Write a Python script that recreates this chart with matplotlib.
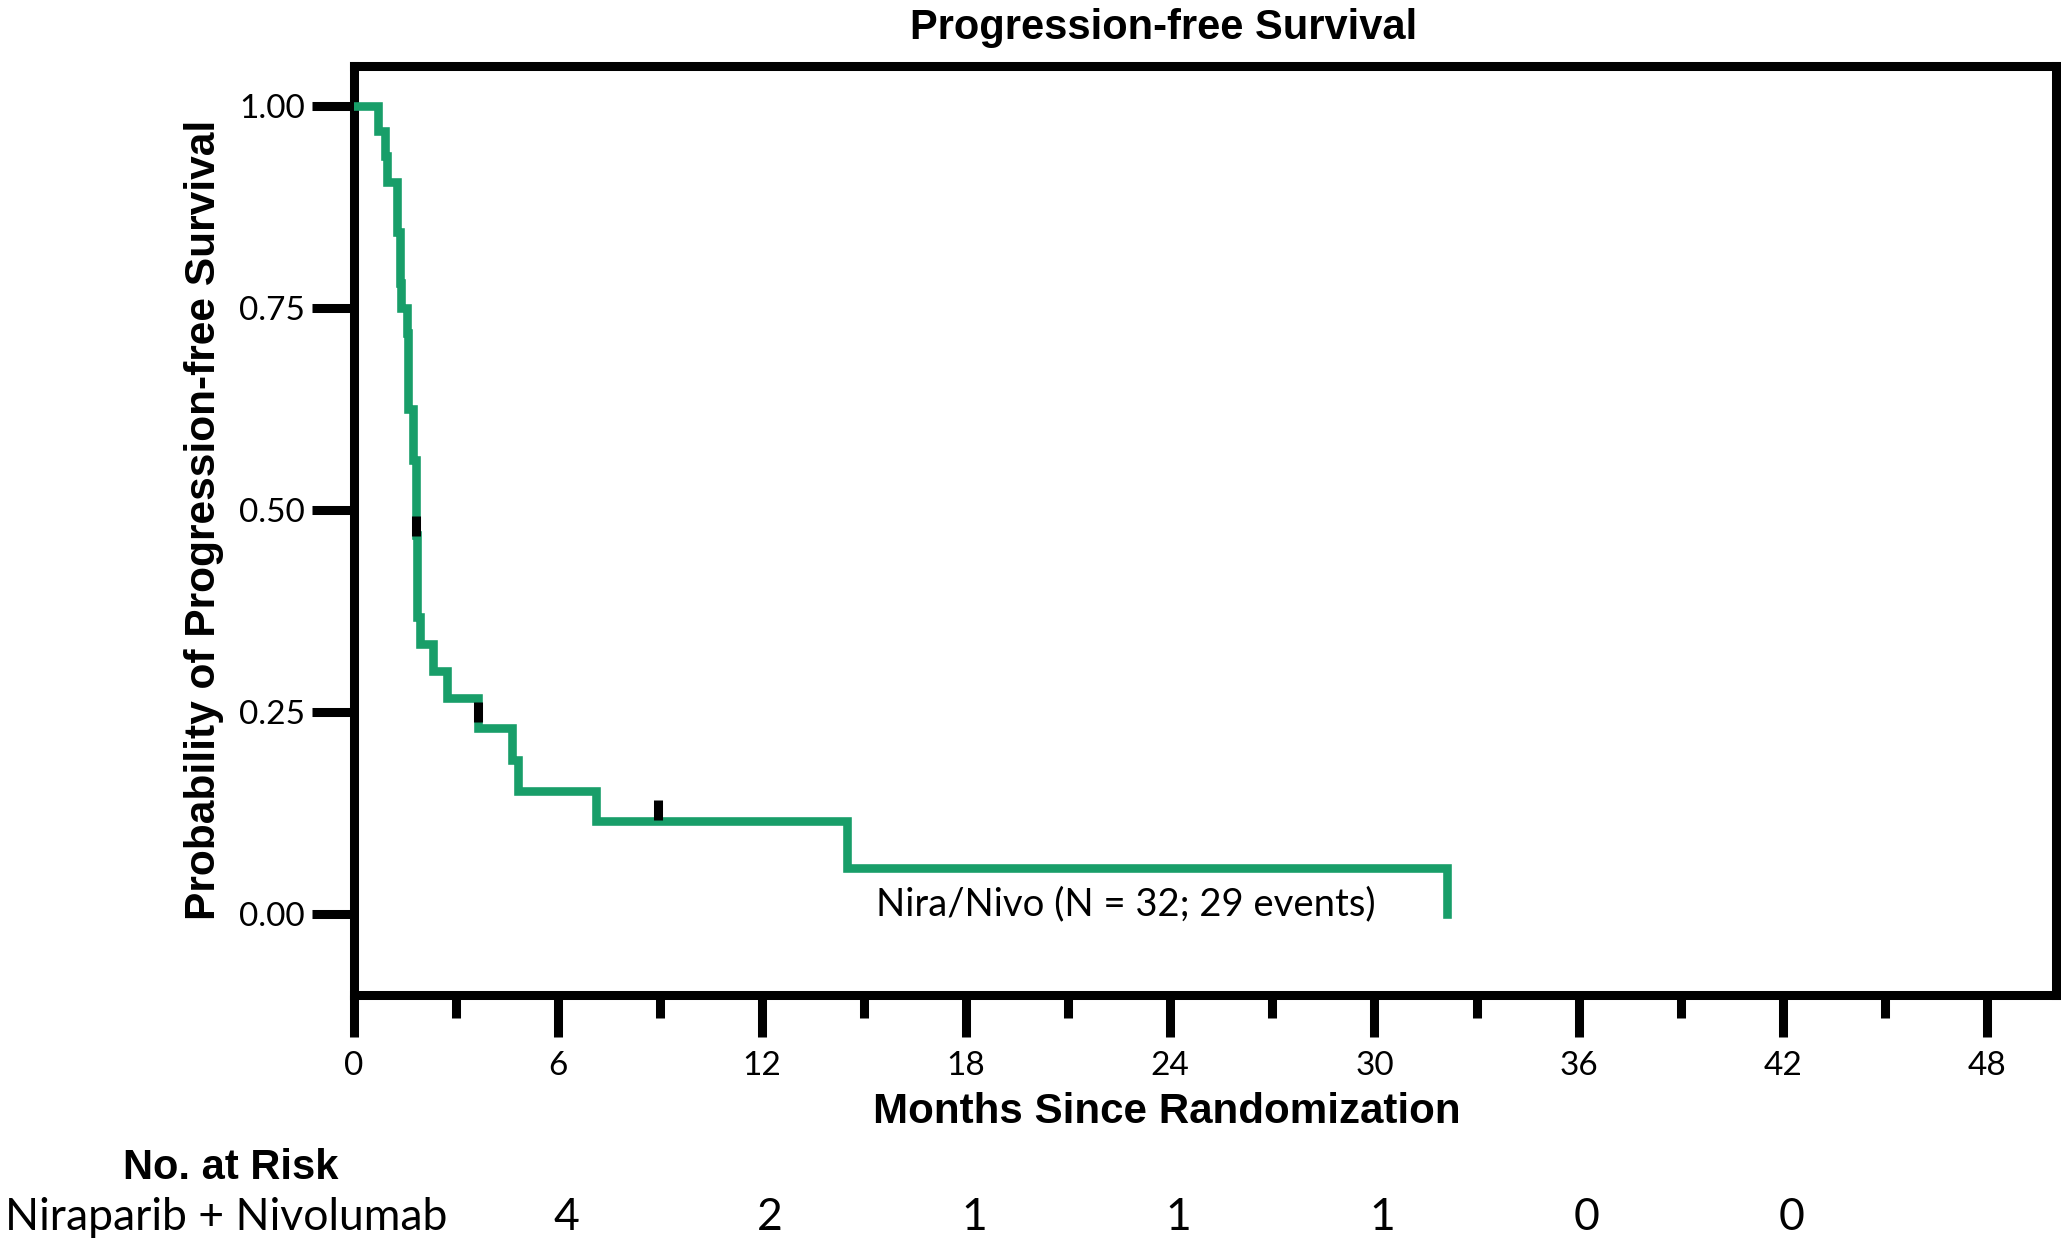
import numpy as np
import matplotlib
matplotlib.use('Agg')
import matplotlib.pyplot as plt
import matplotlib.transforms as mtransforms

# Kaplan-Meier steps (months, survival probability)
times = [0, 0.73, 0.92, 0.98, 1.28, 1.36, 1.40, 1.56, 1.60, 1.76, 1.84, 1.87, 1.95,
         2.34, 2.74, 3.67, 4.65, 4.84, 7.12, 14.49, 32.12]
surv = [1.0, 0.969, 0.938, 0.906, 0.844, 0.781, 0.750, 0.719, 0.625, 0.562, 0.469,
        0.368, 0.335, 0.301, 0.268, 0.230, 0.191, 0.153, 0.115, 0.057, 0.0]

# censor marks (time, level where the tick sits)
censor_times = [1.84, 3.65, 8.95]
censor_levels = [0.48, 0.25, 0.129]

risk_times = [6, 12, 18, 24, 30, 36, 42]
risk_counts = [4, 2, 1, 1, 1, 0, 0]

green = '#189e69'
bold_font = 'Liberation Sans'
reg_font = 'Lato'

W, H = 2061, 1239
fig = plt.figure(figsize=(W / 100, H / 100), dpi=100)
ax = fig.add_axes([353.6 / W, 1 - 995 / H, (2056 - 353.6) / W, (995 - 66) / H])

ax.step(times, surv, where='post', color=green, lw=6.2, solid_joinstyle='miter', zorder=3)
ax.plot(censor_times, censor_levels, ls='none', marker='|', ms=15, mew=6.5,
        color='black', zorder=4)

ax.set_xlim(0, 50.03)
ax.set_ylim(-0.1, 1.05)
ax.set_xticks(np.arange(0, 49, 6))
ax.set_xticks(np.arange(3, 48, 6), minor=True)
ax.set_yticks([0, 0.25, 0.5, 0.75, 1.0])
ax.set_yticklabels(['0.00', '0.25', '0.50', '0.75', '1.00'])

for s in ax.spines.values():
    s.set_linewidth(6.5)
    s.set_color('black')

ax.tick_params(axis='x', which='major', direction='out', length=30, width=6.5, pad=10,
               labelsize=24)
ax.tick_params(axis='x', which='minor', direction='out', length=16.5, width=6.5)
ax.tick_params(axis='y', which='major', direction='out', length=30, width=6.5, pad=5,
               labelsize=24)
for lab in ax.get_xticklabels() + ax.get_yticklabels():
    lab.set_fontfamily(reg_font)

ax.text(22.7, 0.012, 'Nira/Nivo (N = 32; 29 events)', ha='center', va='center',
        fontsize=27.5, family=reg_font)

fig.text(1164 / W, 1 - 28 / H, 'Progression-free Survival', ha='center', va='center',
         fontsize=30, fontweight='bold', family=bold_font)
fig.text(204 / W, 1 - 520 / H, 'Probability of Progression-free Survival', ha='center',
         va='center', rotation=90, fontsize=30.6, fontweight='bold', family=bold_font)
fig.text(1167 / W, 1 - 1112 / H, 'Months Since Randomization', ha='center', va='center',
         fontsize=30.3, fontweight='bold', family=bold_font)

# number at risk table
fig.text(231 / W, 1 - 1168 / H, 'No. at Risk', ha='center', va='center',
         fontsize=30, fontweight='bold', family=bold_font)
fig.text(226 / W, 1 - 1217 / H, 'Niraparib + Nivolumab', ha='center', va='center',
         fontsize=32, family=reg_font)
trans = mtransforms.blended_transform_factory(ax.transData, fig.transFigure)
trans = mtransforms.offset_copy(trans, fig=fig, x=6, y=0, units='points')
for t, n in zip(risk_times, risk_counts):
    fig.text(t, 1 - 1217 / H, str(n), ha='center', va='center', fontsize=32,
             family=reg_font, transform=trans)

fig.savefig('out.png', dpi=100)
